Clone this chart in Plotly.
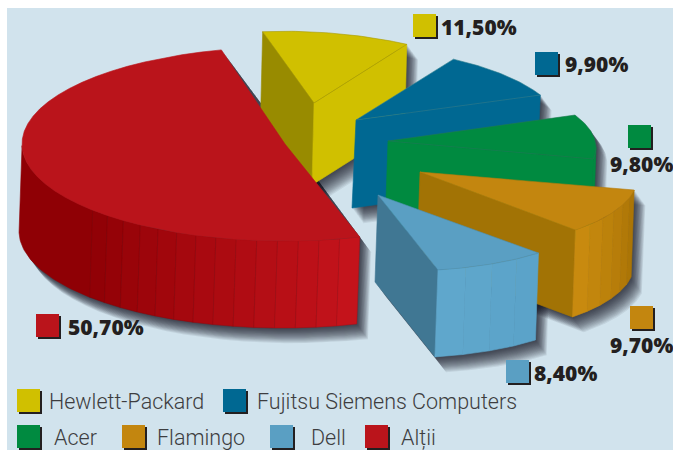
import math
import plotly.graph_objects as go

# ---- data ----
categories = ["Hewlett-Packard", "Fujitsu Siemens Computers", "Acer", "Flamingo", "Dell", "Alții"]
values = [11.5, 9.9, 9.8, 9.7, 8.4, 50.7]

# ---- style: colours ----
top_colors = ["#d0c000", "#006892", "#008a40", "#c3860f", "#5a9fc3", "#ba141b"]
edge_colors = ["#a89b00", "#2f7f8f", "#1f7a50", "#b57c0c", "#4d90b2", "#ba141b"]
cut_colors = ["#d0c000", "#006892", "#008a40", "#a27305", "#407793", None]
back_cut_colors = ["#988b00", None, None, None, None, None]
rim_start = ["#d0c000", "#006892", "#008a40", "#a87305", "#5aa2c8", "#8f0005"]
rim_end = ["#d0c000", "#006892", "#008a40", "#cb8c10", "#60a8cd", "#c6141c"]
BG = "#d1e3ed"
TEXT = "#231f20"
LEGEND_TEXT = "#3d3d40"

# ---- layout of the exploded, tilted pie (screen px) ----
START_ANGLE = 103.0
cx = [314, 356, 388, 420, 378, 285]
cy = [103, 120, 141, 172, 195, 144]
rx = [205, 205, 208, 217, 224, 263]
ry = [71, 73.5, 72.3, 77.4, 75.8, 97]
shear = [0.05, 0.039, 0.0305, 0.0256, 0.032, 0.0]
turn = [1.5, 0, 0, 0, 0, 1.0]
drop_x = [-2, -4, -3, -3, -3, -3]
drop_y = [82, 88, 87, 87, 87, 87]
rim_strips = [1, 1, 1, 6, 4, 14]
RED_RIM_LEFT = -180.0   # left extreme of the red rim
RED_RIM_FLAT = -138.0   # flat colour up to here, then strips

# ---- label layout ----
SW = 23
data_swatch = [(413, 14), (535, 52), (628, 125), (630, 306), (506, 360), (36, 314)]
data_text = [(439, 27), (563, 64), (608, 164), (608, 345), (532, 373), (66, 327)]
legend_swatch = [(17, 389), (223, 389), (17, 425), (122, 425), (270, 425), (365, 425)]
legend_text = [(47, 401), (255, 401), (52, 437), (155, 437), (309, 437), (399, 437)]


def pt(i, deg):
    t = math.radians(deg + turn[i])
    dx = rx[i] * math.cos(t)
    return cx[i] + dx, cy[i] - ry[i] * math.sin(t) + shear[i] * dx


def arc(i, a, b, n=40):
    return [pt(i, a + (b - a) * j / n) for j in range(n + 1)]


def drop(i, pts):
    return [(x + drop_x[i], y + drop_y[i]) for x, y in pts]


def hull(points):
    p = sorted(set(points))
    def half(seq):
        out = []
        for q in seq:
            while len(out) > 1 and (out[-1][0]-out[-2][0])*(q[1]-out[-2][1]) - (out[-1][1]-out[-2][1])*(q[0]-out[-2][0]) <= 0:
                out.pop()
            out.append(q)
        return out[:-1]
    return half(p) + half(p[::-1])


def mix(c1, c2, f):
    a = [int(c1[k:k+2], 16) for k in (1, 3, 5)]
    b = [int(c2[k:k+2], 16) for k in (1, 3, 5)]
    return "#%02x%02x%02x" % tuple(round(u + (v - u) * f) for u, v in zip(a, b))


def poly(pts, color, line=None, w=0.6):
    xs = [p[0] for p in pts] + [pts[0][0]]
    ys = [p[1] for p in pts] + [pts[0][1]]
    return go.Scatter(x=xs, y=ys, mode="lines", fill="toself", fillcolor=color,
                      line=dict(color=line or color, width=w), hoverinfo="skip",
                      showlegend=False)


fig = go.Figure()

# angular spans follow the values, clockwise from the start angle
spans = []
cur = START_ANGLE
for v in values:
    nxt = cur - v * 3.6
    spans.append((cur, nxt))
    cur = nxt

# soft shadows first: they only fall on the background
for i, (a, b) in enumerate(spans):
    top = arc(i, a, b) + [(cx[i], cy[i])]
    sil = hull(top + drop(i, top))
    for d in range(1, 17):
        off = [(x + d * 0.7, y + d * 0.95) for x, y in sil]
        fig.add_trace(go.Scatter(x=[p[0] for p in off], y=[p[1] for p in off], mode="lines",
                                 fill="toself", fillcolor="rgba(20,20,25,0.075)",
                                 line=dict(width=0), hoverinfo="skip", showlegend=False))

# slices
for i, (a, b) in enumerate(spans):
    apex = (cx[i], cy[i])
    if back_cut_colors[i]:
        e = [apex, pt(i, a)]
        fig.add_trace(poly(e + drop(i, e)[::-1], back_cut_colors[i]))
    if cut_colors[i]:
        e = [apex, pt(i, b)]
        fig.add_trace(poly(e + drop(i, e)[::-1], cut_colors[i]))
    # rim: only the part facing the viewer
    if i == 5:
        f_pts = arc(i, RED_RIM_LEFT, RED_RIM_FLAT)
        fig.add_trace(poly(f_pts + drop(i, f_pts)[::-1], rim_start[i]))
        n = rim_strips[i]
        for s in range(n):
            s0 = RED_RIM_FLAT + (a - RED_RIM_FLAT) * s / n
            s1 = RED_RIM_FLAT + (a - RED_RIM_FLAT) * (s + 1) / n
            col = mix(rim_start[i], rim_end[i], (s + 0.5) / n)
            p = arc(i, s0, s1, 6)
            fig.add_trace(poly(p + drop(i, p)[::-1], col, mix(col, "#400000", 0.2), 0.5))
    elif i in (3, 4):
        n = rim_strips[i]
        for s in range(n):
            s0 = a + (b - a) * s / n
            s1 = a + (b - a) * (s + 1) / n
            col = mix(rim_start[i], rim_end[i], (s + 0.5) / n)
            p = arc(i, s0, s1, 6)
            fig.add_trace(poly(p + drop(i, p)[::-1], col))
    elif i == 2:
        p = arc(i, 0, b, 12)
        fig.add_trace(poly(p + drop(i, p)[::-1], rim_end[i]))
    # top face
    fig.add_trace(poly(arc(i, a, b) + [apex], top_colors[i], edge_colors[i]))

# value labels and legend
shapes = []
annotations = []


def swatch(x, y, color):
    shapes.append(dict(type="rect", xref="x", yref="y", x0=x + 2, x1=x + SW + 2, y0=y + 2, y1=y + SW + 2,
                       fillcolor=TEXT, line=dict(width=0)))
    shapes.append(dict(type="rect", xref="x", yref="y", x0=x, x1=x + SW, y0=y, y1=y + SW,
                       fillcolor=color, line=dict(width=0)))


for i, v in enumerate(values):
    swatch(*data_swatch[i], top_colors[i])
    swatch(*legend_swatch[i], top_colors[i])
    annotations.append(dict(x=data_text[i][0], y=data_text[i][1], xref="x", yref="y", xanchor="left",
                            yanchor="middle", showarrow=False, text=f"{v:.2f}%".replace(".", ","),
                            font=dict(family="Open Sans", size=21, color=TEXT, weight=800)))
    annotations.append(dict(x=legend_text[i][0], y=legend_text[i][1], xref="x", yref="y", xanchor="left",
                            yanchor="middle", showarrow=False, text=categories[i],
                            font=dict(family="Roboto", size=21.5, color=LEGEND_TEXT, weight=300)))

fig.update_layout(
    width=673, height=450, margin=dict(l=7, r=0, t=8, b=0), autosize=False,
    paper_bgcolor="white", plot_bgcolor=BG, showlegend=False,
    xaxis=dict(range=[7, 673], visible=False, fixedrange=True),
    yaxis=dict(range=[450, 8], visible=False, fixedrange=True),
    shapes=shapes, annotations=annotations,
)
fig.write_html("out.html", config=dict(displayModeBar=False),
               post_script="document.body.style.margin='0';")
